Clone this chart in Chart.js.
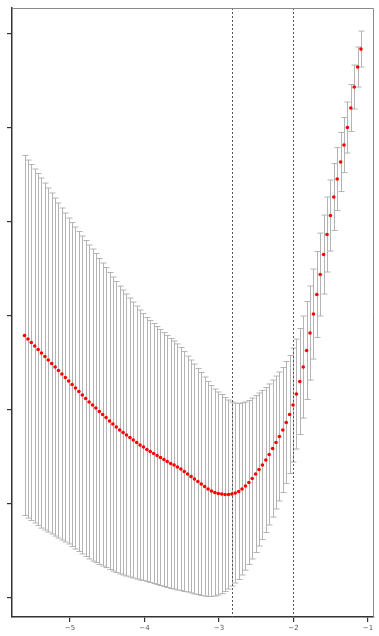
<!DOCTYPE html>
<html>
<head>
<meta charset="utf-8">
<script src="https://cdn.jsdelivr.net/npm/chart.js@4.4.1/dist/chart.umd.min.js"></script>
<style>
    html, body { margin: 0; padding: 0; background: #ffffff; }
    #wrap { width: 379px; height: 636px; }
</style>
</head>
<body>
<div id="wrap"><canvas id="cv-chart" width="379" height="636"></canvas></div>
<script>
// log(lambda) grid of the fit
const logLambda = [
    -5.611, -5.565, -5.520, -5.474, -5.428, -5.383, -5.337, -5.292, -5.246, -5.200,
    -5.155, -5.109, -5.063, -5.018, -4.972, -4.927, -4.881, -4.835, -4.790, -4.744,
    -4.698, -4.653, -4.607, -4.562, -4.516, -4.470, -4.425, -4.379, -4.333, -4.288,
    -4.242, -4.196, -4.151, -4.105, -4.060, -4.014, -3.968, -3.923, -3.877, -3.831,
    -3.786, -3.740, -3.695, -3.649, -3.603, -3.558, -3.512, -3.466, -3.421, -3.375,
    -3.330, -3.284, -3.238, -3.193, -3.147, -3.101, -3.056, -3.010, -2.964, -2.919,
    -2.873, -2.828, -2.782, -2.736, -2.691, -2.645, -2.599, -2.554, -2.508, -2.463,
    -2.417, -2.371, -2.326, -2.280, -2.234, -2.189, -2.143, -2.097, -2.052, -2.006,
    -1.961, -1.915, -1.869, -1.824, -1.778, -1.732, -1.687, -1.641, -1.596, -1.550,
    -1.504, -1.459, -1.413, -1.367, -1.322, -1.276, -1.230, -1.185, -1.139, -1.094
];

// mean cross-validated error
const cvMean = [
    2.793, 2.755, 2.718, 2.681, 2.644, 2.606, 2.569, 2.532, 2.495, 2.457,
    2.420, 2.383, 2.346, 2.309, 2.271, 2.234, 2.197, 2.160, 2.122, 2.085,
    2.053, 2.021, 1.984, 1.952, 1.920, 1.883, 1.851, 1.819, 1.787, 1.761,
    1.734, 1.707, 1.681, 1.654, 1.628, 1.606, 1.580, 1.559, 1.537, 1.516,
    1.495, 1.473, 1.452, 1.431, 1.415, 1.394, 1.372, 1.346, 1.319, 1.293,
    1.266, 1.239, 1.213, 1.186, 1.160, 1.138, 1.122, 1.112, 1.106, 1.101,
    1.101, 1.106, 1.117, 1.133, 1.160, 1.191, 1.229, 1.271, 1.319, 1.367,
    1.415, 1.468, 1.527, 1.590, 1.654, 1.718, 1.787, 1.867, 1.952, 2.053,
    2.170, 2.303, 2.457, 2.633, 2.819, 3.021, 3.229, 3.441, 3.654, 3.867,
    4.069, 4.266, 4.457, 4.638, 4.819, 5.005, 5.213, 5.436, 5.649, 5.840
];

// standard error of the cv estimate (half height of each bar)
const cvSd = [
    1.915, 1.904, 1.894, 1.883, 1.872, 1.862, 1.846, 1.830, 1.814, 1.798,
    1.782, 1.766, 1.750, 1.734, 1.723, 1.713, 1.702, 1.691, 1.681, 1.670,
    1.660, 1.644, 1.628, 1.612, 1.596, 1.580, 1.564, 1.548, 1.532, 1.516,
    1.500, 1.484, 1.468, 1.452, 1.436, 1.420, 1.404, 1.394, 1.383, 1.372,
    1.362, 1.351, 1.340, 1.330, 1.319, 1.309, 1.293, 1.277, 1.255, 1.239,
    1.223, 1.202, 1.186, 1.165, 1.144, 1.122, 1.101, 1.080, 1.059, 1.032,
    1.005, 0.979, 0.957, 0.936, 0.915, 0.894, 0.872, 0.856, 0.835, 0.814,
    0.793, 0.771, 0.750, 0.729, 0.707, 0.686, 0.665, 0.649, 0.628, 0.606,
    0.585, 0.564, 0.543, 0.521, 0.500, 0.479, 0.457, 0.441, 0.420, 0.399,
    0.378, 0.356, 0.335, 0.314, 0.293, 0.271, 0.250, 0.234, 0.213, 0.191
];

const xTicks = [-5, -4, -3, -2, -1];
const yTicks = [0, 1, 2, 3, 4, 5, 6];

// lambda.min and lambda.1se
const refLines = [-2.828, -2.006];

// error bars + reference lines, drawn through the chart scales
const errorBarPlugin = {
    id: 'errorBars',
    beforeDatasetsDraw(chart) {
        const ctx = chart.ctx;
        const xs = chart.scales.x;
        const ys = chart.scales.y;
        const area = chart.chartArea;

        ctx.save();
        ctx.beginPath();
        ctx.rect(area.left, area.top, area.right - area.left, area.bottom - area.top);
        ctx.clip();

        ctx.strokeStyle = '#b3b3b3';
        ctx.lineWidth = 1;
        for (let i = 0; i < logLambda.length; i++) {
            const px = Math.round(xs.getPixelForValue(logLambda[i])) + 0.5;
            const top = ys.getPixelForValue(cvMean[i] + cvSd[i]);
            const bot = ys.getPixelForValue(cvMean[i] - cvSd[i]);
            ctx.beginPath();
            ctx.moveTo(px, top);
            ctx.lineTo(px, bot);
            ctx.moveTo(px - 3, top);
            ctx.lineTo(px + 3, top);
            ctx.moveTo(px - 3, bot);
            ctx.lineTo(px + 3, bot);
            ctx.stroke();
        }

        // dashed vertical lines
        ctx.strokeStyle = '#555555';
        ctx.setLineDash([2, 2]);
        refLines.forEach(function (v) {
            const px = Math.round(xs.getPixelForValue(v)) + 0.5;
            ctx.beginPath();
            ctx.moveTo(px, area.top);
            ctx.lineTo(px, area.bottom);
            ctx.stroke();
        });
        ctx.restore();
    },
    afterDraw(chart) {
        // box round the plot, lighter on top and right
        const ctx = chart.ctx;
        const area = chart.chartArea;
        ctx.save();
        ctx.strokeStyle = '#8a8a8a';
        ctx.lineWidth = 1;
        ctx.beginPath();
        ctx.moveTo(area.left, area.top + 0.5);
        ctx.lineTo(area.right - 0.5, area.top + 0.5);
        ctx.lineTo(area.right - 0.5, area.bottom);
        ctx.stroke();
        ctx.restore();
    }
};

document.addEventListener('DOMContentLoaded', function () {
    const points = logLambda.map(function (x, i) {
        return { x: x, y: cvMean[i] };
    });

    const ctx = document.getElementById('cv-chart').getContext('2d');
    new Chart(ctx, {
        type: 'scatter',
        data: {
            datasets: [{
                data: points,
                pointRadius: 1.8,
                pointBorderWidth: 0,
                pointBackgroundColor: '#ff0000',
                showLine: false
            }]
        },
        options: {
            responsive: false,
            animation: false,
            events: [],
            layout: { padding: { left: 7, right: 5, top: 8, bottom: 0 } },
            plugins: {
                legend: { display: false },
                tooltip: { enabled: false }
            },
            scales: {
                x: {
                    type: 'linear',
                    min: -5.779,
                    max: -0.919,
                    afterBuildTicks: function (scale) {
                        scale.ticks = xTicks.map(function (v) { return { value: v }; });
                    },
                    afterFit: function (scale) { scale.height = 19; },
                    border: { color: '#333333', width: 1.5 },
                    grid: {
                        drawOnChartArea: false,
                        drawTicks: true,
                        tickLength: 5,
                        color: '#333333',
                        lineWidth: 1.2
                    },
                    ticks: {
                        padding: 2,
                        color: '#555555',
                        font: { family: 'DejaVu Sans', size: 7 },
                        maxRotation: 0,
                        callback: function (v) { return String(v).replace('-', '\u2212'); }
                    }
                },
                y: {
                    type: 'linear',
                    min: -0.202,
                    max: 6.277,
                    afterBuildTicks: function (scale) {
                        scale.ticks = yTicks.map(function (v) { return { value: v }; });
                    },
                    afterFit: function (scale) { scale.width = 5; },
                    border: { color: '#333333', width: 1.5 },
                    grid: {
                        drawOnChartArea: false,
                        drawTicks: true,
                        tickLength: 5,
                        color: '#333333',
                        lineWidth: 1.2
                    },
                    ticks: { display: false }
                }
            }
        },
        plugins: [errorBarPlugin]
    });
});
</script>
</body>
</html>
